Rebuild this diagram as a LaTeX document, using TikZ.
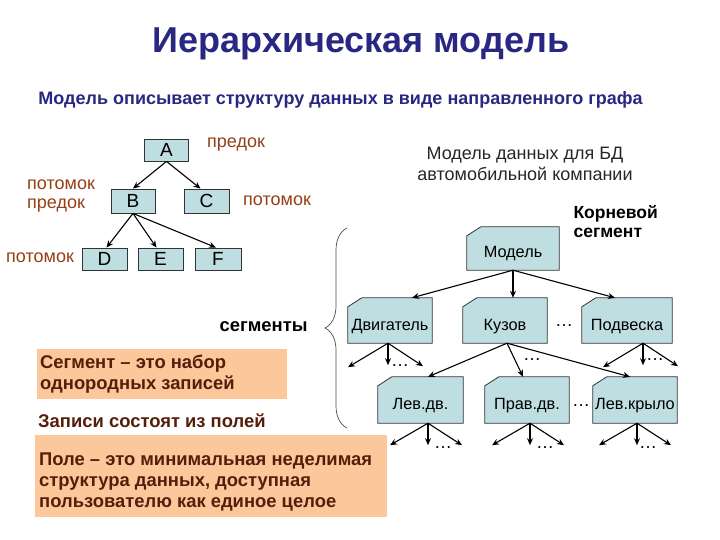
\documentclass[tikz,border=0pt]{standalone}
\usepackage{fontspec}
\setmainfont{Liberation Sans}
\usetikzlibrary{arrows.meta,calc,backgrounds,decorations.pathreplacing}
\definecolor{titleblue}{RGB}{40,40,130}
\definecolor{boxteal}{RGB}{190,222,226}
\definecolor{peach}{RGB}{250,200,155}
\definecolor{brownlbl}{RGB}{150,62,20}
\definecolor{browntxt}{RGB}{85,30,10}
\tikzset{
  tbox/.style={draw=black!80, fill=boxteal, line width=0.8pt, minimum height=22, inner sep=0pt, font=\fontsize{19}{21}\selectfont},
  lbl/.style={text=brownlbl, inner sep=0pt, font=\fontsize{18}{20}\selectfont},
  seg/.style={minimum height=45, inner sep=0pt},
  segshape/.style={draw=black!80, fill=boxteal, line width=0.8pt},
  segtxt/.style={font=\fontsize{16.3}{18}\selectfont},
  arr/.style={-{Stealth[length=7pt,width=6pt]}, line width=1.1pt},
  dots/.style={inner sep=0pt, font=\fontsize{18}{20}\selectfont},
  notetxt/.style={text=browntxt, font=\bfseries\fontsize{18.4}{21}\selectfont, align=left, anchor=west, inner sep=0pt},
}
\begin{document}
\begin{tikzpicture}[x=1pt,y=-1pt]
\useasboundingbox (0,0) rectangle (720,540);
% titles
\node[text=titleblue, font=\bfseries\fontsize{36}{40}\selectfont] (title) at (361,44) {Иерархическая модель};
\node[text=titleblue, font=\bfseries\fontsize{18}{21}\selectfont] (sub) at (340.5,100) {Модель описывает структуру данных в виде направленного графа};
% left tree
\node[tbox, minimum width=44] (A) at (166.5,150) {A};
\node[tbox, minimum width=44, minimum height=24] (B) at (133,201) {B};
\node[tbox, minimum width=45, minimum height=24] (C) at (206.5,201) {C};
\node[tbox, minimum width=45] (D) at (104.5,259) {D};
\node[tbox, minimum width=45] (E) at (160.5,259) {E};
\node[tbox, minimum width=46] (F) at (218,259) {F};
\draw[arr] (A.south) -- (B.north);
\draw[arr] (A.south) -- ([xshift=-6]C.north);
\draw[arr] (B.south) -- ([xshift=2]D.north);
\draw[arr] (B.south) -- ([xshift=-4]E.north);
\draw[arr] (B.south) -- ([xshift=-2]F.north);
\node[lbl, anchor=west] (l1) at (207,145) {предок};
\node[lbl, anchor=west] (l2) at (27,185) {потомок};
\node[lbl, anchor=west] (l3) at (27,206) {предок};
\node[lbl, anchor=west] (l4) at (243,201) {потомок};
\node[lbl, anchor=west] (l5) at (6,258) {потомок};
% right heading
\node[align=center, text=black!85, font=\fontsize{18}{21}\selectfont] (rh) at (525,164) {Модель данных для БД\\автомобильной компании};
\node[align=left, anchor=west, font=\bfseries\fontsize{17.5}{19}\selectfont] (root) at (570,222) {Корневой\\сегмент};
% segments
\node[seg, minimum width=92, minimum height=43, label={[segtxt, yshift=-5]center:Модель}] (model) at (513,248.5) {};
\node[seg, minimum width=84, label={[segtxt, yshift=-6]center:Двигатель}] (dv) at (390,320.5) {};
\node[seg, minimum width=84, label={[segtxt, yshift=-6]center:Кузов}] (kz) at (505,320.5) {};
\node[seg, minimum width=90, label={[segtxt, yshift=-6]center:Подвеска}] (pd) at (627,320.5) {};
\node[seg, minimum width=85, minimum height=46, label={[segtxt, yshift=-6]center:Лев.дв.}] (ld) at (420.5,400) {};
\node[seg, minimum width=84, minimum height=46, label={[segtxt, yshift=-6]center:Прав.дв.}] (pr) at (527,400) {};
\node[seg, minimum width=84, minimum height=46, label={[segtxt, yshift=-6]center:Лев.крыло}] (lk) at (635,400) {};
\begin{scope}[on background layer]
\foreach \n in {model,dv,kz,pd,ld,pr,lk}
  \draw[segshape] ($(\n.north west)+(0,9)$) -- ($(\n.north west)+(14,0)$) -- (\n.north east) -- (\n.south east) -- (\n.south west) -- cycle;
\end{scope}
\draw[arr] (model.south) -- ([xshift=22]dv.north);
\draw[arr] (model.south) -- ([xshift=8]kz.north);
\draw[arr] (model.south) -- ([xshift=-12]pd.north);
\draw[arr] ([xshift=2]kz.south) -- ([xshift=7.5]ld.north);
\draw[arr] ([xshift=2]kz.south) -- ([xshift=-4]pr.north);
\draw[arr] ([xshift=2]kz.south) -- ([xshift=-5]lk.north);
% fan-outs
\foreach \n/\dx in {dv/-2, pd/16}{
  \draw[arr] ([xshift=\dx]\n.south) -- ++(-40,24);
  \draw[arr] ([xshift=\dx]\n.south) -- ++(0,22);
  \draw[arr] ([xshift=\dx]\n.south) -- ++(35,23);
}
\foreach \n/\dx in {ld/7.5, pr/3, lk/2}{
  \draw[arr] ([xshift=\dx]\n.south) -- ++(-38,22);
  \draw[arr] ([xshift=\dx]\n.south) -- ++(0,22);
  \draw[arr] ([xshift=\dx]\n.south) -- ++(34,22);
}
\node[dots] (d1) at (400,366) {\dots};
\node[dots] (d2) at (532,360) {\dots};
\node[dots] (d3) at (655,360) {\dots};
\node[dots] (d4) at (564,326) {\dots};
\node[dots] (d5) at (581,406) {\dots};
\node[dots] (d6) at (443,448) {\dots};
\node[dots] (d7) at (545,448) {\dots};
\node[dots] (d8) at (648,448) {\dots};
% brace
\draw[decorate, decoration={brace, amplitude=22pt, aspect=0.5}, line width=0.7pt, black!70] (347,428) -- (347,228);
\node[anchor=east, font=\bfseries\fontsize{18.4}{20}\selectfont] (segl) at (311,327) {сегменты};
% notes
\fill[peach] (37,349) rectangle (287,399);
\node[notetxt] (n1) at (40,374) {Сегмент – это набор\\однородных записей};
\node[notetxt] (n2) at (38,421) {Записи состоят из полей};
\fill[peach] (35,435) rectangle (387,517);
\node[notetxt] (n3) at (39,482) {Поле – это минимальная неделимая\\структура данных, доступная\\пользователю как единое целое};
\end{tikzpicture}
\end{document}
